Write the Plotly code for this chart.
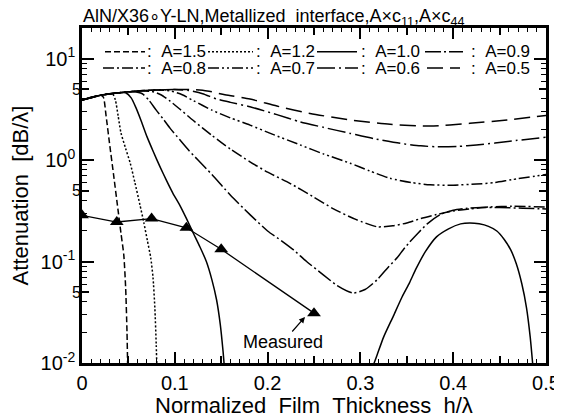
import math
import plotly.graph_objects as go

# ---------------- data ----------------
x_A15 = [0, 0.008, 0.015, 0.02, 0.023, 0.026, 0.030, 0.034, 0.038, 0.042, 0.045, 0.047, 0.0485, 0.0495]
y_A15 = [3.9, 4.07, 4.27, 4.34, 4.17, 2.7, 1.38, 0.72, 0.37, 0.19, 0.117, 0.056, 0.02, 0.0063]

x_A12 = [0, 0.01, 0.02, 0.028, 0.033, 0.036, 0.039, 0.042, 0.047, 0.052, 0.057, 0.0625, 0.0667, 0.0705, 0.074, 0.0765, 0.0785, 0.080, 0.081]
y_A12 = [3.9, 4.15, 4.35, 4.5, 4.5, 3.9, 2.7, 1.85, 1.3, 0.93, 0.6, 0.36, 0.24, 0.16, 0.11, 0.07, 0.035, 0.015, 0.007]

x_A10 = [0, 0.01, 0.02, 0.03, 0.04, 0.047, 0.053, 0.058, 0.064, 0.07, 0.077, 0.084, 0.091, 0.098, 0.106, 0.113, 0.12, 0.127, 0.134, 0.14, 0.145, 0.149, 0.152, 0.1545]
y_A10 = [3.9, 4.15, 4.35, 4.5, 4.6, 4.6, 4.1, 3.3, 2.4, 1.7, 1.2, 0.86, 0.63, 0.47, 0.35, 0.26, 0.19, 0.14, 0.10, 0.066, 0.042, 0.024, 0.013, 0.007]

x_A10b = [0.313, 0.318, 0.325, 0.3355, 0.345, 0.353, 0.36, 0.37, 0.382, 0.395, 0.408, 0.418, 0.428, 0.438, 0.447, 0.455, 0.462, 0.468, 0.474, 0.479, 0.483, 0.486]
y_A10b = [0.009, 0.012, 0.018, 0.029, 0.045, 0.062, 0.085, 0.125, 0.175, 0.21, 0.235, 0.24, 0.235, 0.222, 0.2, 0.165, 0.13, 0.095, 0.06, 0.035, 0.018, 0.009]

x_A09 = [0, 0.02, 0.04, 0.055, 0.065, 0.072, 0.08, 0.088, 0.095, 0.105, 0.115, 0.125, 0.14, 0.16, 0.181, 0.2, 0.215, 0.228, 0.242, 0.26, 0.275, 0.292, 0.305, 0.318, 0.33, 0.34, 0.346, 0.353, 0.362, 0.372, 0.386, 0.4, 0.415, 0.43, 0.45, 0.475, 0.5]
y_A09 = [3.9, 4.35, 4.6, 4.7, 4.5, 3.9, 3.1, 2.5, 2.05, 1.6, 1.25, 1.0, 0.72, 0.45, 0.29, 0.2, 0.16, 0.13, 0.10, 0.074, 0.058, 0.049, 0.053, 0.066, 0.088, 0.11, 0.13, 0.155, 0.19, 0.235, 0.29, 0.32, 0.335, 0.34, 0.34, 0.335, 0.33]

x_A08 = [0, 0.02, 0.04, 0.06, 0.075, 0.085, 0.095, 0.105, 0.12, 0.14, 0.16, 0.181, 0.2, 0.224, 0.25, 0.271, 0.295, 0.318, 0.335, 0.35, 0.365, 0.382, 0.4, 0.418, 0.44, 0.463, 0.5]
y_A08 = [3.9, 4.35, 4.6, 4.78, 4.75, 4.4, 3.8, 3.2, 2.45, 1.75, 1.28, 0.96, 0.76, 0.59, 0.43, 0.33, 0.26, 0.22, 0.225, 0.24, 0.265, 0.29, 0.315, 0.33, 0.345, 0.35, 0.345]

x_A07 = [0, 0.02, 0.04, 0.06, 0.08, 0.095, 0.108, 0.12, 0.14, 0.16, 0.181, 0.205, 0.235, 0.26, 0.289, 0.31, 0.332, 0.355, 0.375, 0.4, 0.425, 0.445, 0.463, 0.5]
y_A07 = [3.9, 4.35, 4.6, 4.8, 4.9, 4.8, 4.4, 3.85, 3.1, 2.6, 2.21, 1.8, 1.41, 1.15, 0.93, 0.78, 0.66, 0.6, 0.57, 0.565, 0.58, 0.6, 0.64, 0.72]

x_A06 = [0, 0.02, 0.04, 0.06, 0.08, 0.1, 0.115, 0.13, 0.145, 0.16, 0.181, 0.21, 0.235, 0.26, 0.289, 0.315, 0.343, 0.365, 0.382, 0.405, 0.425, 0.445, 0.463, 0.5]
y_A06 = [3.9, 4.35, 4.6, 4.8, 4.9, 4.95, 4.85, 4.5, 4.0, 3.7, 3.35, 2.8, 2.38, 2.1, 1.83, 1.62, 1.46, 1.38, 1.35, 1.36, 1.41, 1.47, 1.54, 1.68]

x_A05 = [0, 0.02, 0.04, 0.06, 0.08, 0.1, 0.12, 0.135, 0.154, 0.181, 0.21, 0.2457, 0.289, 0.332, 0.375, 0.418, 0.458, 0.5]
y_A05 = [3.9, 4.35, 4.6, 4.8, 4.9, 4.95, 4.95, 4.8, 4.4, 3.99, 3.4, 2.88, 2.48, 2.25, 2.16, 2.3, 2.48, 2.75]

x_meas = [0, 0.0375, 0.075, 0.1125, 0.15, 0.25]
y_meas = [0.285, 0.245, 0.265, 0.215, 0.132, 0.031]

legend_labels = ["A=1.5", "A=1.2", "A=1.0", "A=0.9", "A=0.8", "A=0.7", "A=0.6", "A=0.5"]

x_ticks = [0, 0.1, 0.2, 0.3, 0.4, 0.5]
x_ticktext = ["0", "0.1", "0.2", "0.3", "0.4", "0.5"]
y_ticks = [0.01, 0.1, 1, 10]
y_ticktext = ["10<sup>-2</sup>", "10<sup>-1</sup>", "10<sup>0</sup>", "10<sup>1</sup>"]
y_fives = [0.05, 0.5, 5]

# ---------------- styles ----------------
FONT = "Liberation Sans, Arial, Helvetica, sans-serif"
D15 = "6px,3px"
D12 = "2px,2px"
D10 = "solid"
D09 = "16px,3px,2px,3px"
D08 = "11px,3px,2px,3px"
D07 = "11px,3px,2px,3px,2px,3px"
D06 = "18px,4px,2px,4px"
D05 = "16px,7px"

series = [
    (x_A15, y_A15, D15), (x_A12, y_A12, D12), (x_A10, y_A10, D10),
    (x_A10b, y_A10b, D10), (x_A09, y_A09, D09), (x_A08, y_A08, D08),
    (x_A07, y_A07, D07), (x_A06, y_A06, D06), (x_A05, y_A05, D05),
]

fig = go.Figure()
for xs, ys, d in series:
    fig.add_trace(go.Scatter(x=xs, y=ys, mode="lines",
                             line=dict(color="black", width=1.5, dash=d,
                                       shape="spline", smoothing=0.6),
                             showlegend=False, hoverinfo="skip"))

fig.add_trace(go.Scatter(x=x_meas, y=y_meas, mode="lines+markers",
                         line=dict(color="black", width=1.3),
                         marker=dict(symbol="triangle-up", size=12, color="black"),
                         showlegend=False, hoverinfo="skip"))

# empty trace to activate the overlay axes (medium ticks)
fig.add_trace(go.Scatter(x=[], y=[], xaxis="x2", yaxis="y2", showlegend=False))

# ---------------- layout ----------------
# the page body adds an 8px offset; the figure is sized so the plot area lands
# at window pixels x 82..546, y 28..363
OFF = 8
W, H = 562 - OFF, 419 - OFF
L, R, T, B = 82 - OFF, 16, 28 - OFF, 56
PW, PH = W - L - R, H - T - B


def px_x(px):  # window px -> paper x
    return (px - 82) / PW


def px_y(py):  # window px -> paper y
    return (363 - py) / PH


x_minor = [round(i * 0.01, 2) for i in range(1, 50) if i % 5 != 0]
y_minor = [k * 10.0 ** e for e in (-2, -1, 0, 1) for k in (2, 3, 4, 6, 7, 8, 9) if k * 10.0 ** e < 20]

axis_common = dict(showgrid=False, zeroline=False, ticks="inside", tickcolor="black",
                   tickwidth=1.5, mirror="allticks")

fig.update_layout(
    width=W, height=H,
    margin=dict(l=L, r=R, t=T, b=B, autoexpand=False),
    paper_bgcolor="white", plot_bgcolor="white",
    font=dict(family=FONT, color="black"),
    title=dict(text="AlN/X36∘Y-LN,Metallized\u00a0\u00a0interface,A×c<sub>11</sub>,A×c<sub>44</sub>",
               x=px_x(83), xref="paper", xanchor="left",
               y=1 - (15.5 - OFF) / H, yref="container", yanchor="middle",
               font=dict(size=18, family=FONT, color="black")),
    xaxis=dict(range=[0, 0.5], tickmode="array", tickvals=x_ticks, ticktext=x_ticktext,
               ticklen=11, showline=True, linecolor="black", linewidth=2.5,
               tickfont=dict(size=20, family=FONT, color="black"),
               minor=dict(tickmode="array", tickvals=x_minor, ticks="inside", ticklen=4,
                          tickwidth=1.2, tickcolor="black", showgrid=False),
               automargin=False, **axis_common),
    xaxis2=dict(range=[0, 0.5], overlaying="x", anchor="y", side="bottom",
                tickmode="array", tickvals=[0.05, 0.15, 0.25, 0.35, 0.45],
                ticklen=7, showticklabels=False, showline=False, **axis_common),
    yaxis=dict(type="log", range=[-2, 1.301], tickmode="array", tickvals=y_ticks,
               ticktext=y_ticktext, ticklen=12, showline=True, linecolor="black",
               linewidth=2.5, tickfont=dict(size=20, family=FONT, color="black"),
               minor=dict(tickmode="array", tickvals=y_minor, ticks="inside", ticklen=5,
                          tickwidth=1.2, tickcolor="black", showgrid=False),
               title=dict(text="Attenuation\u00a0\u00a0[dB/λ]",
                          font=dict(size=22, family=FONT, color="black"), standoff=6),
               automargin=False, **axis_common),
    yaxis2=dict(type="log", range=[-2, 1.301], overlaying="y", anchor="x", side="left",
                tickmode="array", tickvals=y_fives, ticktext=["5", "5", "5"],
                tickfont=dict(size=16, family=FONT, color="black"),
                ticklen=7, showline=False, **axis_common),
)

# x-axis title placed precisely
fig.add_annotation(text="Normalized\u00a0\u00a0Film\u00a0\u00a0Thickness\u00a0\u00a0h/λ",
                   xref="paper", yref="paper", x=0.5, y=px_y(405), xanchor="center",
                   yanchor="middle", showarrow=False, borderpad=0,
                   font=dict(size=22, family=FONT, color="black"))

# ---------------- legend (drawn manually, two rows) ----------------
dashes = [D15, D12, D10, D09, D08, D07, D06, D05]
row_y = [51.7, 68.0]
samples = [[(105, 145), (208, 253), (317, 357), (425, 463)],
           [(103, 145), (208, 253), (317, 358), (427, 460)]]
colon_x = [146, 255, 360, 470]
for i, lab in enumerate(legend_labels):
    r, c = divmod(i, 4)
    x0, x1 = samples[r][c]
    yy = px_y(row_y[r])
    fig.add_shape(type="line", xref="paper", yref="paper", x0=px_x(x0), x1=px_x(x1),
                  y0=yy, y1=yy, line=dict(color="black", width=1.5, dash=dashes[i]))
    fig.add_annotation(text=":\u00a0\u00a0" + lab, xref="paper", yref="paper",
                       x=px_x(colon_x[c]), y=yy, xanchor="left", yanchor="middle",
                       showarrow=False, borderpad=0,
                       font=dict(size=17, family=FONT, color="black"))

# "Measured" label with arrow
fig.add_annotation(text="Measured", x=0.2403, y=math.log10(0.0284), xref="x", yref="y",
                   ax=-22, ay=25, showarrow=True, arrowhead=2, arrowsize=1, arrowwidth=1.2,
                   arrowcolor="black", borderpad=0,
                   font=dict(size=18, family=FONT, color="black"))

fig.write_html("out.html")
